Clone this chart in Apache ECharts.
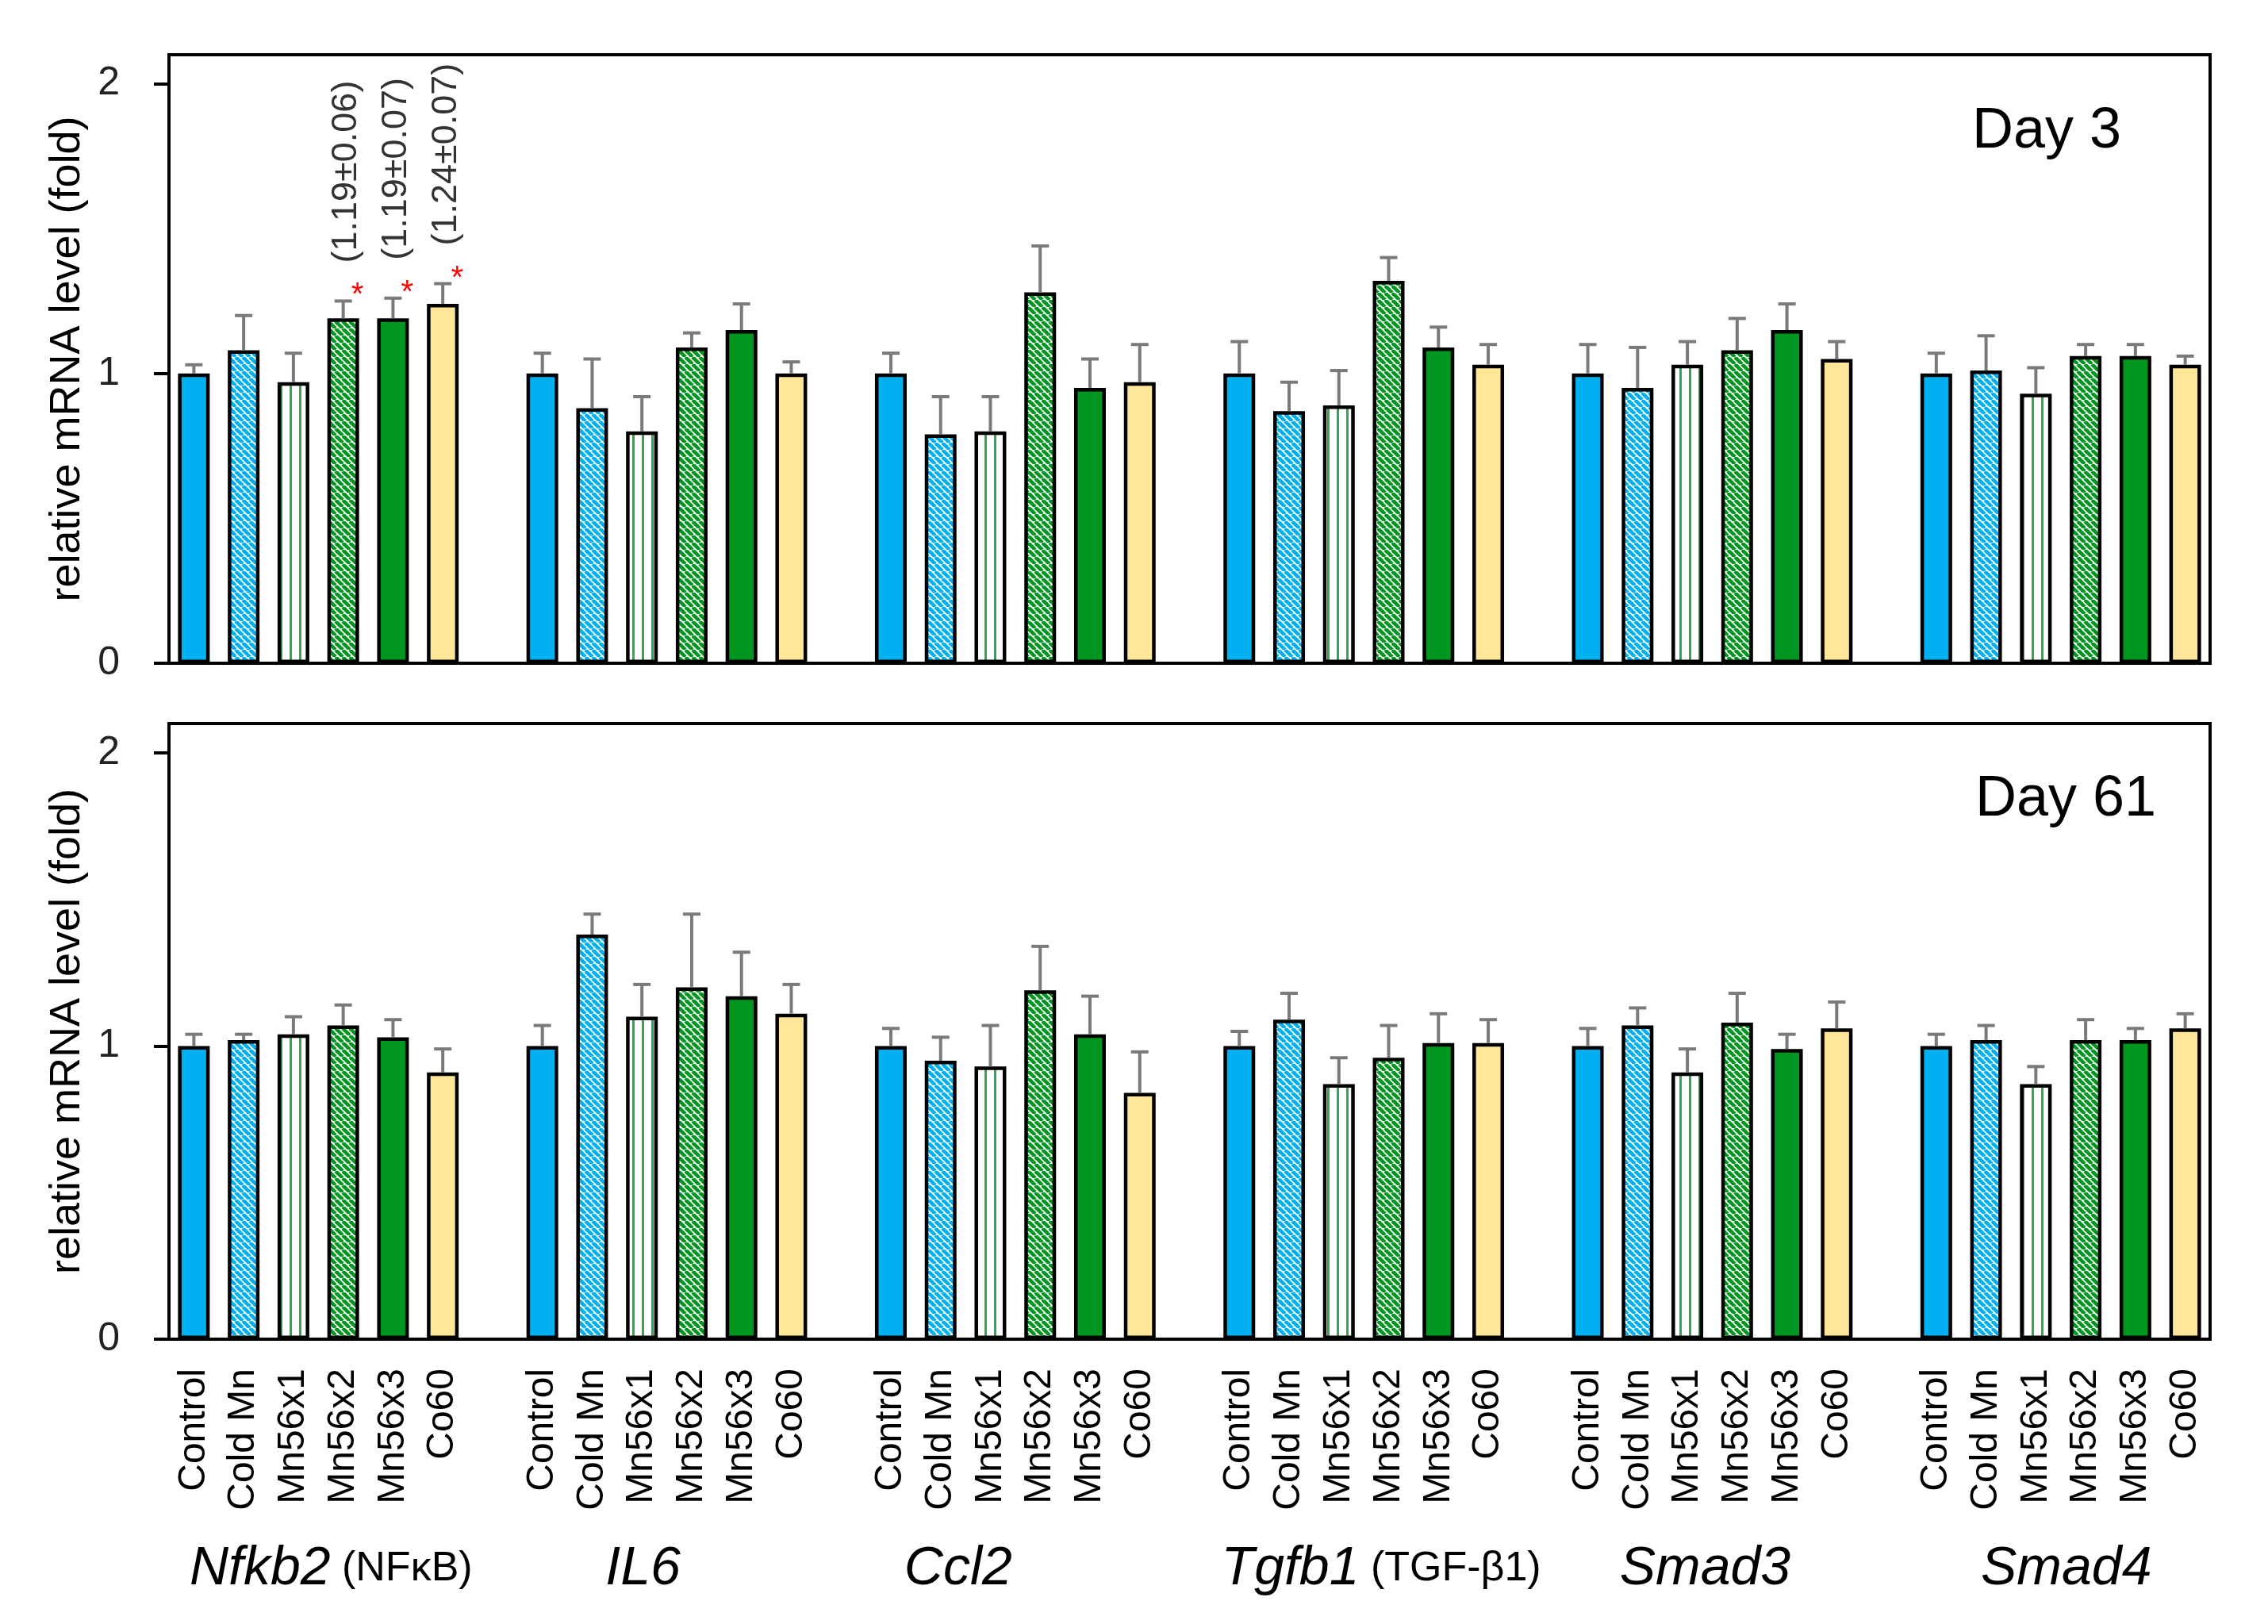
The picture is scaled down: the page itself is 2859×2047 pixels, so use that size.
<!DOCTYPE html>
<html><head><meta charset="utf-8">
<script src="https://cdn.jsdelivr.net/npm/echarts@6/dist/echarts.min.js"></script>
<style>html,body{margin:0;padding:0;background:#fff}#c{width:2859px;height:2047px}</style>
</head><body><div id="c"></div>
<script>
// ---------- data ----------
const treatments = ['Control', 'Cold Mn', 'Mn56x1', 'Mn56x2', 'Mn56x3', 'Co60'];
const genes = ['Nfkb2', 'IL6', 'Ccl2', 'Tgfb1', 'Smad3', 'Smad4'];
const geneNotes = ['(NFκB)', '', '', '(TGF-β1)', '', ''];
const yTicks = [0, 1, 2];
const panelTitles = ['Day 3', 'Day 61'];

const day3Mean = [
  [1.00, 1.08, 0.97, 1.19, 1.19, 1.24],
  [1.00, 0.88, 0.80, 1.09, 1.15, 1.00],
  [1.00, 0.79, 0.80, 1.28, 0.95, 0.97],
  [1.00, 0.87, 0.89, 1.32, 1.09, 1.03],
  [1.00, 0.95, 1.03, 1.08, 1.15, 1.05],
  [1.00, 1.01, 0.93, 1.06, 1.06, 1.03]
];
const day3Sem = [
  [0.03, 0.12, 0.10, 0.06, 0.07, 0.07],
  [0.07, 0.17, 0.12, 0.05, 0.09, 0.04],
  [0.07, 0.13, 0.12, 0.16, 0.10, 0.13],
  [0.11, 0.10, 0.12, 0.08, 0.07, 0.07],
  [0.10, 0.14, 0.08, 0.11, 0.09, 0.06],
  [0.07, 0.12, 0.09, 0.04, 0.04, 0.03]
];
const day61Mean = [
  [1.00, 1.02, 1.04, 1.07, 1.03, 0.91],
  [1.00, 1.38, 1.10, 1.20, 1.17, 1.11],
  [1.00, 0.95, 0.93, 1.19, 1.04, 0.84],
  [1.00, 1.09, 0.87, 0.96, 1.01, 1.01],
  [1.00, 1.07, 0.91, 1.08, 0.99, 1.06],
  [1.00, 1.02, 0.87, 1.02, 1.02, 1.06]
];
const day61Sem = [
  [0.04, 0.02, 0.06, 0.07, 0.06, 0.08],
  [0.07, 0.07, 0.11, 0.25, 0.15, 0.10],
  [0.06, 0.08, 0.14, 0.15, 0.13, 0.14],
  [0.05, 0.09, 0.09, 0.11, 0.10, 0.08],
  [0.06, 0.06, 0.08, 0.10, 0.05, 0.09],
  [0.04, 0.05, 0.06, 0.07, 0.04, 0.05]
];
// significance markers and value notes (Day 3, Nfkb2)
const day3Signif = [
  [0, 0, 0, 1, 1, 1], [0, 0, 0, 0, 0, 0], [0, 0, 0, 0, 0, 0],
  [0, 0, 0, 0, 0, 0], [0, 0, 0, 0, 0, 0], [0, 0, 0, 0, 0, 0]
];
const day3NotesNfkb2 = ['', '', '', '(1.19±0.06)', '(1.19±0.07)', '(1.24±0.07)'];

// ---------- styling ----------
const FONT = 'Liberation Sans, Arial, Helvetica, sans-serif';
const BLUE = '#00B0F0', GREEN = '#00961F', YELLOW = '#FFE699';

function diagPattern(fg, bg, P, w) {
  const c = document.createElement('canvas');
  c.width = P; c.height = P;
  const ctx = c.getContext('2d');
  ctx.fillStyle = bg; ctx.fillRect(0, 0, P, P);
  ctx.strokeStyle = fg; ctx.lineWidth = w;
  for (let k = -1; k <= 1; k++) {
    ctx.beginPath(); ctx.moveTo(k * P, 0); ctx.lineTo(k * P + P, P); ctx.stroke();
  }
  return { image: c, repeat: 'repeat' };
}
function vertPattern(fg, bg, P, w) {
  const c = document.createElement('canvas');
  c.width = P; c.height = 4;
  const ctx = c.getContext('2d');
  ctx.fillStyle = bg; ctx.fillRect(0, 0, P, 4);
  ctx.fillStyle = fg; ctx.fillRect(Math.round(P / 2 - w / 2), 0, w, 4);
  return { image: c, repeat: 'repeat' };
}
const fills = [
  BLUE,
  diagPattern(BLUE, '#ffffff', 9, 4.6),
  vertPattern('#2FA84F', '#ffffff', 12, 3),
  diagPattern(GREEN, '#ffffff', 9, 4.6),
  GREEN,
  YELLOW
];

// ---------- build category slots ----------
const slots = [];
const slotOf = [];
genes.forEach((g, gi) => {
  slotOf.push([]);
  treatments.forEach((t, ti) => { slotOf[gi].push(slots.length); slots.push(t); });
  if (gi < genes.length - 1) slots.push('');
});

function barData(mean) {
  const arr = slots.map(() => '-');
  mean.forEach((row, gi) => row.forEach((v, ti) => {
    arr[slotOf[gi][ti]] = { value: v, itemStyle: { color: fills[ti] } };
  }));
  return arr;
}
function errData(mean, sem, signif) {
  const arr = [];
  mean.forEach((row, gi) => row.forEach((v, ti) => {
    arr.push([slotOf[gi][ti], v, v + sem[gi][ti], signif ? signif[gi][ti] : 0, gi, ti]);
  }));
  return arr;
}

function errRender(withNotes) {
  return function (params, api) {
    const x = api.value(0), m = api.value(1), t = api.value(2);
    const sig = api.value(3), gi = api.value(4), ti = api.value(5);
    const p0 = api.coord([x, m]), p1 = api.coord([x, t]);
    const cap = 11;
    const st = { stroke: '#7A7A7A', lineWidth: 4 };
    const children = [
      { type: 'line', shape: { x1: p0[0], y1: p0[1], x2: p1[0], y2: p1[1] }, style: st },
      { type: 'line', shape: { x1: p1[0] - cap, y1: p1[1], x2: p1[0] + cap, y2: p1[1] }, style: st }
    ];
    if (withNotes && sig) {
      children.push({ type: 'text', x: p1[0] + 18, y: p1[1] - 6,
        style: { text: '*', fontSize: 40, fill: '#FF0000', align: 'center', verticalAlign: 'middle', fontFamily: FONT } });
      const note = gi === 0 ? day3NotesNfkb2[ti] : '';
      if (note) {
        children.push({ type: 'text', x: p1[0] + 4, y: p1[1] - 48, rotation: Math.PI / 2,
          style: { text: note, fontSize: 45, fill: '#333333', align: 'left', verticalAlign: 'middle', fontFamily: FONT } });
      }
    }
    return { type: 'group', children };
  };
}

const grids = [
  { left: 213, top: 69, width: 2573, height: 767 },
  { left: 213, top: 912, width: 2573, height: 776 }
];

const yAxisCommon = (gi) => ({
  type: 'value', gridIndex: gi, min: 0, max: 2.1, interval: 1,
  name: 'relative mRNA level (fold)', nameLocation: 'middle', nameGap: 100,
  nameTextStyle: { fontSize: 54, color: '#000', fontFamily: FONT },
  axisLine: { show: true, lineStyle: { color: '#000', width: 4 } },
  axisTick: { show: true, length: 19, customValues: yTicks, lineStyle: { color: '#000', width: 4 } },
  axisLabel: { fontSize: 50, color: '#222', margin: 62, fontFamily: FONT, customValues: yTicks,
    formatter: v => (Math.abs(v - Math.round(v)) < 1e-9 ? String(Math.round(v)) : '') },
  splitLine: { show: false }
});

const option = {
  backgroundColor: '#fff',
  animation: false,
  grid: grids.map(g => Object.assign({ show: true, borderColor: '#000', borderWidth: 4, backgroundColor: 'transparent' }, g)),
  xAxis: [0, 1].map(gi => ({
    type: 'category', gridIndex: gi, data: slots, boundaryGap: true,
    axisLine: { show: true, lineStyle: { color: '#000', width: 4 } },
    axisTick: { show: false },
    axisLabel: gi === 1
      ? { show: true, interval: 0, rotate: 90, fontSize: 48, color: '#000', margin: 37, fontFamily: FONT }
      : { show: false }
  })),
  yAxis: [yAxisCommon(0), yAxisCommon(1)],
  series: [
    { type: 'bar', xAxisIndex: 0, yAxisIndex: 0, barWidth: 40, data: barData(day3Mean),
      itemStyle: { borderColor: '#000', borderWidth: 4.5 }, z: 2 },
    { type: 'bar', xAxisIndex: 1, yAxisIndex: 1, barWidth: 40, data: barData(day61Mean),
      itemStyle: { borderColor: '#000', borderWidth: 4.5 }, z: 2 },
    { type: 'custom', xAxisIndex: 0, yAxisIndex: 0, data: errData(day3Mean, day3Sem, day3Signif),
      renderItem: errRender(true), z: 3, clip: false },
    { type: 'custom', xAxisIndex: 1, yAxisIndex: 1, data: errData(day61Mean, day61Sem, null),
      renderItem: errRender(false), z: 3, clip: false }
  ]
};

const chart = echarts.init(document.getElementById('c'), null, { renderer: 'canvas' });
chart.setOption(option);

// ---------- text overlays ----------
const geneLabelOffsets = [16, -30, -72, 22, -9, 7];
const graphics = [];
graphics.push({ type: 'text', left: 2486, top: 130,
  style: { text: panelTitles[0], fontSize: 72, fill: '#000', font: '72px ' + FONT } });
graphics.push({ type: 'text', left: 2490, top: 972,
  style: { text: panelTitles[1], fontSize: 72, fill: '#000', font: '72px ' + FONT } });
genes.forEach((g, gi) => {
  const a = chart.convertToPixel({ xAxisIndex: 1, yAxisIndex: 1 }, [slotOf[gi][2], 0]);
  const b = chart.convertToPixel({ xAxisIndex: 1, yAxisIndex: 1 }, [slotOf[gi][3], 0]);
  const cx = (a[0] + b[0]) / 2 + geneLabelOffsets[gi];
  const txt = geneNotes[gi] ? '{g|' + g + '}{p| ' + geneNotes[gi] + '}' : '{g|' + g + '}';
  graphics.push({ type: 'text', x: cx, y: 1978,
    style: { text: txt, align: 'center', verticalAlign: 'middle', fill: '#000',
      rich: {
        g: { fontSize: 68, fontStyle: 'italic', fontFamily: FONT, fill: '#000' },
        p: { fontSize: 52, fontFamily: FONT, fill: '#000' }
      } } });
});
chart.setOption({ graphic: graphics });
</script></body></html>
